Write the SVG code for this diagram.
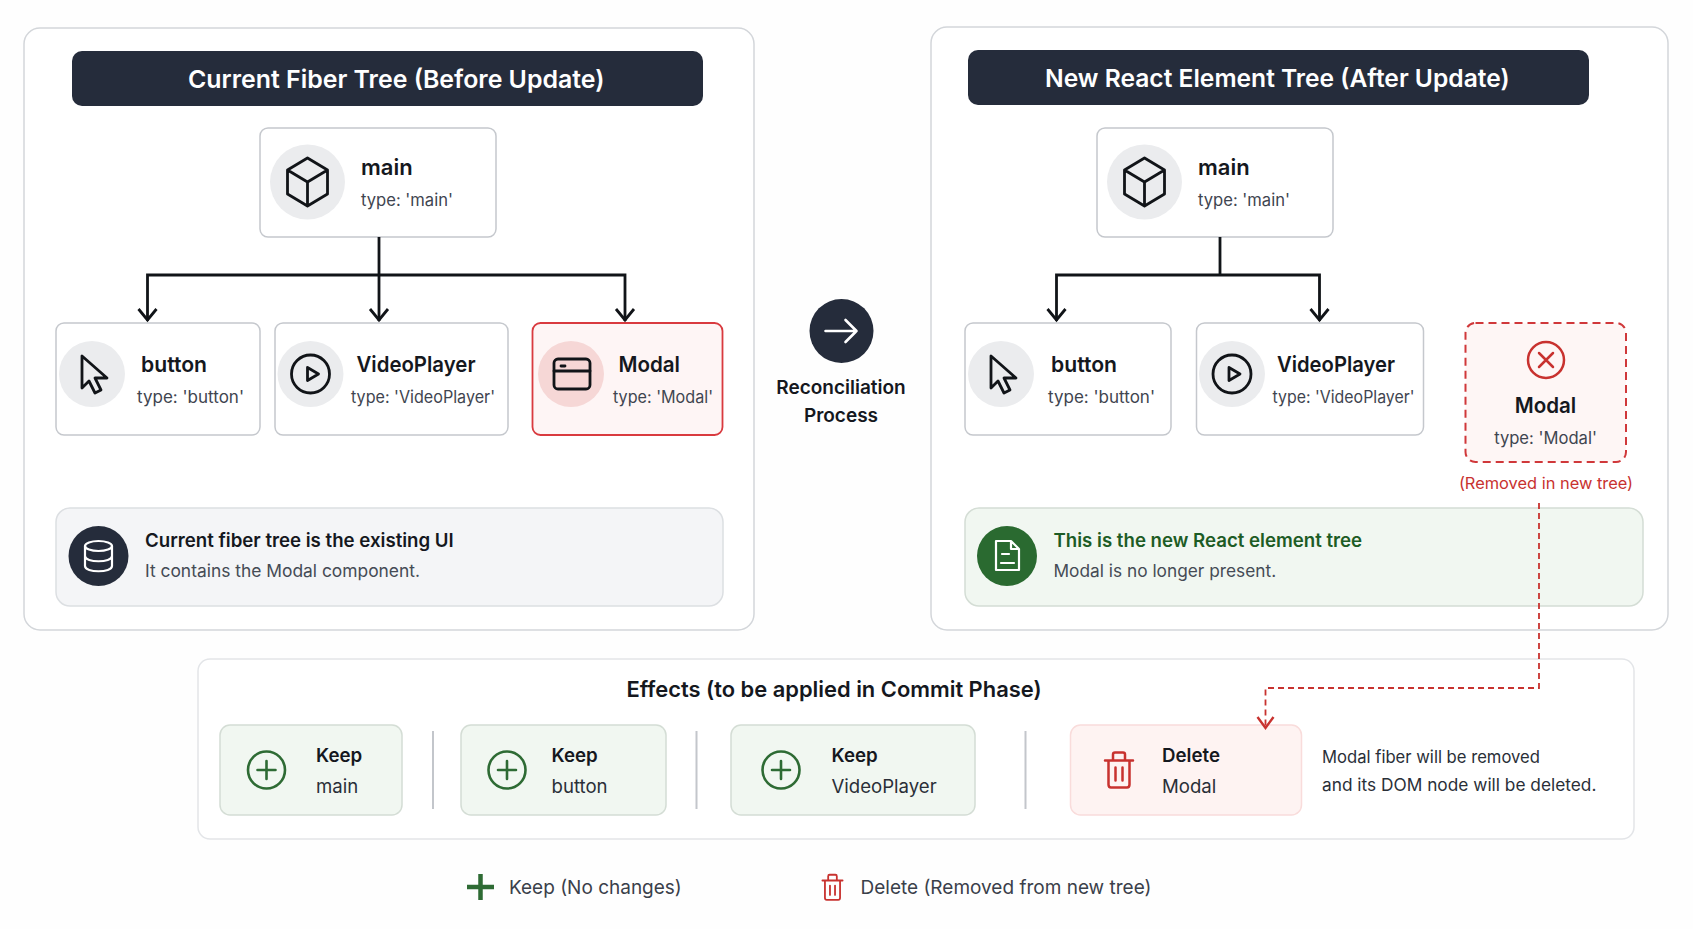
<svg xmlns="http://www.w3.org/2000/svg" width="1693" height="929" viewBox="0 0 1693 929">
<style>
text{font-family:Inter,"Liberation Sans",sans-serif;}
.panel{fill:#fff;stroke:#d3d6da;stroke-width:1.5}
.hdr{fill:#252c3b}
.hdrt{fill:#fff;font-size:24.9px;font-weight:600}
.node{fill:#fff;stroke:#c5c8cd;stroke-width:1.5}
.ic{fill:#ebecee}
.nm{fill:#15181e;font-size:22px;font-weight:600}
.ty{fill:#3f4550;font-size:16.6px}
.ln{fill:none;stroke:#111418;stroke-width:2.8;stroke-linejoin:round;stroke-linecap:round}
.conn{fill:none;stroke:#111418;stroke-width:2.8}
.red{fill:none;stroke:#c8322f;stroke-width:2.5;stroke-linecap:round;stroke-linejoin:round}
.dash{fill:none;stroke:#c8322f;stroke-width:1.8;stroke-dasharray:6 4}
.grn{fill:none;stroke:#2e6b34;stroke-width:2.6;stroke-linecap:round}
.wht{fill:none;stroke:#fff;stroke-width:2.2;stroke-linejoin:round;stroke-linecap:round}
.keep{fill:#f1f7f1;stroke:#d4ddd5;stroke-width:1.5}
.del{fill:#fef3f2;stroke:#f9dcdb;stroke-width:1.5}
.sep{stroke:#c3c6cb;stroke-width:2}
.bt{fill:#15181e;font-size:18.7px;font-weight:600}
.bs{fill:#2a2f38;font-size:18.6px}
.it{fill:#15181e;font-size:18.65px;font-weight:600}
.is{fill:#454b55;font-size:17.4px}
.leg{fill:#3a404a;font-size:19px}
</style>
<defs>
<marker id="ah" markerUnits="userSpaceOnUse" markerWidth="22" markerHeight="24" refX="11" refY="1" orient="0" viewBox="0 -12 22 24"><path d="M2,-11 L11,0 L20,-11" fill="none" stroke="#111418" stroke-width="2.8"/></marker>
<marker id="ahr" markerUnits="userSpaceOnUse" markerWidth="22" markerHeight="24" refX="11" refY="1" orient="0" viewBox="0 -12 22 24"><path d="M3,-11 L11,0 L19,-11" fill="none" stroke="#c8322f" stroke-width="2.4"/></marker>
<g id="i-cube" class="ln"><path d="M0,-24 L20,-12 V12 L0,24 L-20,12 V-12Z M-20,-12 L0,0 L20,-12 M0,0 V24"/></g>
<g id="i-cur" class="ln"><path d="M-10,-18 V14 L-3,7 L3,19 L9,16 L3,4 L15,4Z"/></g>
<g id="i-play" class="ln"><circle r="19"/><path d="M-3,-6.5 L8,0 L-3,6.5Z"/></g>
<g id="i-plus" class="grn"><circle r="18.5"/><path d="M-9,0 H9 M0,-9 V9"/></g>
<g id="i-trash" class="red"><path d="M-14,-9 H14 M-6,-9 V-15 Q-6,-17 -4,-17 H4 Q6,-17 6,-15 V-9 M-10.500,-9 V15 Q-10.500,18 -8,18 H8 Q10.500,18 10.500,15 V-9 M-3.500,-2 V11 M3.500,-2 V11"/></g>
</defs>
<rect width="1693" height="929" fill="#fefefe"/>

<g id="panel-left">
<rect class="panel" x="24" y="28" width="730" height="602" rx="16"/>
<rect class="hdr" x="72" y="51" width="631" height="55" rx="10"/>
<text class="hdrt" x="188" y="88">Current Fiber Tree (Before Update)</text>
</g>
<g id="panel-right">
<rect class="panel" x="931" y="27" width="737" height="603" rx="16"/>
<rect class="hdr" x="968" y="50" width="621" height="55" rx="10"/>
<text class="hdrt" x="1045" y="87" style="font-size:24.6px">New React Element Tree (After Update)</text>
</g>

<g id="left-main"><rect class="node" x="260" y="128" width="236" height="109" rx="8"/><circle class="ic" cx="307.500" cy="182" r="37.500"/><use href="#i-cube" x="307.500" y="182"/><text class="nm" x="361" y="175">main</text><text class="ty" x="361" y="206">type: 'main'</text></g>
<g id="left-button"><rect class="node" x="56" y="323" width="204" height="112" rx="8"/><circle class="ic" cx="92" cy="374" r="33"/><use href="#i-cur" x="92" y="374"/><text class="nm" x="141" y="372" textLength="66" lengthAdjust="spacingAndGlyphs">button</text><text class="ty" x="137" y="403" textLength="107" lengthAdjust="spacingAndGlyphs">type: 'button'</text></g>
<g id="left-videoplayer"><rect class="node" x="275" y="323" width="233" height="112" rx="8"/><circle class="ic" cx="310.500" cy="374" r="33"/><use href="#i-play" x="310.500" y="374"/><text class="nm" x="356.500" y="372" textLength="119" lengthAdjust="spacingAndGlyphs">VideoPlayer</text><text class="ty" x="351" y="403" textLength="144" lengthAdjust="spacingAndGlyphs">type: 'VideoPlayer'</text></g>
<g id="left-modal"><rect x="532.500" y="323" width="190" height="112" rx="8" fill="#fef5f5" stroke="#d93a3f" stroke-width="1.8"/><circle cx="571" cy="374" r="33" fill="#f6d7d6"/><g class="ln"><rect x="554" y="359" width="36" height="30" rx="4"/><path d="M554,371 H590 M561,366 H565"/></g><text class="nm" x="618.500" y="372" textLength="61.500" lengthAdjust="spacingAndGlyphs">Modal</text><text class="ty" x="613" y="403" textLength="100" lengthAdjust="spacingAndGlyphs">type: 'Modal'</text></g>
<g id="left-info"><rect x="56" y="508" width="667" height="98" rx="14" fill="#f4f5f7" stroke="#dcdfe2" stroke-width="1.5"/><circle cx="98.500" cy="556" r="30" fill="#252c3b"/><g class="wht"><ellipse cx="98.500" cy="546" rx="13.500" ry="5"/><path d="M85,546 V566 C85,573 112,573 112,566 V546 M85,556 C85,563 112,563 112,556"/></g><text class="it" x="145" y="547">Current fiber tree is the existing UI</text><text class="is" x="145" y="576.500">It contains the Modal component.</text></g>

<g id="right-main"><rect class="node" x="1097" y="128" width="236" height="109" rx="8"/><circle class="ic" cx="1144.500" cy="182" r="37.500"/><use href="#i-cube" x="1144.500" y="182"/><text class="nm" x="1198" y="175">main</text><text class="ty" x="1198" y="206">type: 'main'</text></g>
<g id="right-button"><rect class="node" x="965" y="323" width="206" height="112" rx="8"/><circle class="ic" cx="1001" cy="374" r="33"/><use href="#i-cur" x="1001" y="374"/><text class="nm" x="1051" y="372" textLength="66" lengthAdjust="spacingAndGlyphs">button</text><text class="ty" x="1048" y="403" textLength="107" lengthAdjust="spacingAndGlyphs">type: 'button'</text></g>
<g id="right-videoplayer"><rect class="node" x="1196.500" y="323" width="227" height="112" rx="8"/><circle class="ic" cx="1232" cy="374" r="33"/><use href="#i-play" x="1232" y="374"/><text class="nm" x="1277" y="372" textLength="118" lengthAdjust="spacingAndGlyphs">VideoPlayer</text><text class="ty" x="1272.500" y="403" textLength="142" lengthAdjust="spacingAndGlyphs">type: 'VideoPlayer'</text></g>
<g id="right-modal-removed"><rect x="1465.500" y="323" width="160.500" height="139" rx="10" fill="#fef6f5" stroke="#d0383a" stroke-width="2" stroke-dasharray="8 5"/><circle class="red" cx="1546" cy="360" r="18"/><path class="red" d="M1539,353 L1553,367 M1553,353 L1539,367"/><text class="nm" x="1545.500" y="413" text-anchor="middle" textLength="61.500" lengthAdjust="spacingAndGlyphs">Modal</text><text class="ty" x="1545.500" y="444" text-anchor="middle">type: 'Modal'</text><text x="1546" y="489" text-anchor="middle" fill="#c8322f" font-size="16.400">(Removed in new tree)</text></g>
<g id="right-info"><rect x="965" y="508" width="678" height="98" rx="14" fill="#f1f7f1" stroke="#d4ddd5" stroke-width="1.5"/><circle cx="1007" cy="556" r="30" fill="#2a6a30"/><g class="wht"><path d="M996,541 H1011 L1019,549 V570 H996Z M1011,541 V549 H1019 M1001,563 H1014 M1002,554 H1009"/></g><text class="it" x="1053.500" y="547" style="fill:#1d5c25">This is the new React element tree</text><text class="is" x="1053.500" y="576.500" style="font-size:17.3px">Modal is no longer present.</text></g>

<g id="center-process"><circle cx="841.500" cy="331" r="32" fill="#252c3b"/><path class="wht" style="stroke-width:2.6" d="M825.500,331 H856.500 M845.500,320 L856.500,331 L845.500,342"/><text x="841" y="394" text-anchor="middle" fill="#15181e" font-size="19" font-weight="600">Reconciliation</text><text x="841" y="422" text-anchor="middle" fill="#15181e" font-size="19" font-weight="600">Process</text></g>

<g id="effects-panel"><rect x="198" y="659" width="1436" height="180" rx="12" fill="#fff" stroke="#e3e5e8" stroke-width="1.500"/><text x="834" y="696.500" text-anchor="middle" fill="#15181e" font-size="21.900" font-weight="600">Effects (to be applied in Commit Phase)</text>
<path class="sep" d="M433,731 V809 M696.500,731 V809 M1025.500,731 V809"/></g>
<g id="effect-main"><rect class="keep" x="220" y="725" width="182" height="90" rx="10"/><use href="#i-plus" x="266.500" y="770"/><text class="bt" x="316" y="762">Keep</text><text class="bs" x="316" y="792.800">main</text></g>
<g id="effect-button"><rect class="keep" x="461" y="725" width="205" height="90" rx="10"/><use href="#i-plus" x="507" y="770"/><text class="bt" x="551.500" y="762">Keep</text><text class="bs" x="551.500" y="792.800">button</text></g>
<g id="effect-videoplayer"><rect class="keep" x="731" y="725" width="244" height="90" rx="10"/><use href="#i-plus" x="781" y="770"/><text class="bt" x="831.500" y="762">Keep</text><text class="bs" x="831.500" y="792.800">VideoPlayer</text></g>
<g id="effect-modal"><rect class="del" x="1070.500" y="725" width="231" height="90" rx="10"/><use href="#i-trash" x="1119" y="769.500"/><text class="bt" x="1162" y="762">Delete</text><text class="bs" x="1162" y="792.800">Modal</text></g>
<g id="effect-note"><text x="1322" y="763" fill="#2a2f38" font-size="17.200" textLength="218" lengthAdjust="spacingAndGlyphs">Modal fiber will be removed</text><text x="1322" y="790.500" fill="#2a2f38" font-size="17.300">and its DOM node will be deleted.</text></g>

<g id="legend-keep"><path d="M467,887 H494 M480.500,874 V900" fill="none" stroke="#2e6b34" stroke-width="4.500"/><text class="leg" x="509" y="893.500">Keep (No changes)</text></g>
<g id="legend-delete"><use href="#i-trash" transform="translate(832.500 887) scale(.72)"/><text class="leg" x="860.500" y="893.500">Delete (Removed from new tree)</text></g>

<g id="connectors">
<path class="conn" d="M379,237 V321" marker-end="url(#ah)"/>
<path class="conn" d="M379,275 H147.500 V321" marker-end="url(#ah)"/>
<path class="conn" d="M379,275 H625 V321" marker-end="url(#ah)"/>
<path class="conn" d="M1220,237 V275"/>
<path class="conn" d="M1220,275 H1056.500 V321" marker-end="url(#ah)"/>
<path class="conn" d="M1220,275 H1319.500 V321" marker-end="url(#ah)"/>
<path class="dash" d="M1539,503 V688 H1265.500 V729" marker-end="url(#ahr)"/>
</g>
</svg>
